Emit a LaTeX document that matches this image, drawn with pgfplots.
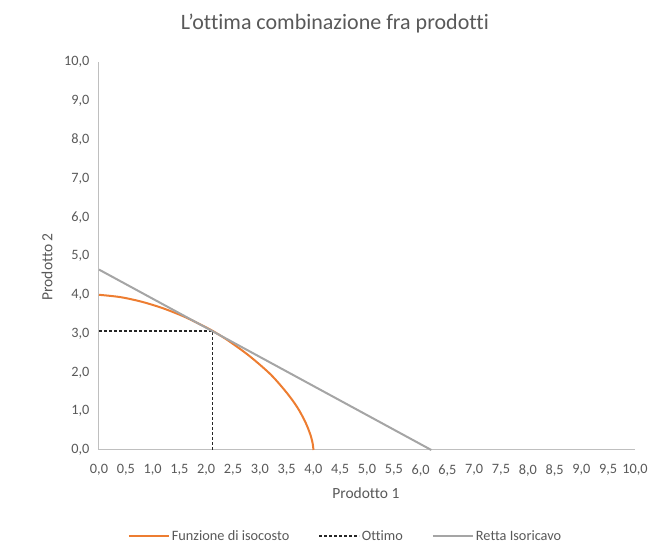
\documentclass[border=0pt]{standalone}
\usepackage{pgfplots}
\pgfplotsset{compat=1.18}
\usepackage{fontspec}
\setmainfont{Carlito}[Ligatures={NoCommon}]
\definecolor{txt}{HTML}{595959}
\definecolor{arancio}{HTML}{ED7D31}
\definecolor{grigio}{HTML}{A5A5A5}
\definecolor{assi}{HTML}{BFBFBF}

\begin{document}
\begin{tikzpicture}[x=1pt,y=1pt]
\useasboundingbox (-99,-107) rectangle (555,450);
\begin{axis}[
  anchor=south west, at={(0,0)},
  scale only axis, width=536pt, height=388pt,
  xmin=0, xmax=10, ymin=0, ymax=10,
  xtick={0,0.5,...,10}, ytick={0,1,...,10},
  axis x line=bottom, axis y line=left,
  axis line style={-, assi, line width=1pt},
  major tick length=0pt,
  xticklabel style={font=\fontsize{14.3}{15}\selectfont, text=txt, yshift=-11pt},
  yticklabel style={font=\fontsize{14.3}{15}\selectfont, text=txt, xshift=-6pt},
  /pgf/number format/.cd, fixed, fixed zerofill, precision=1, use comma,
  assume math mode=true, /pgfplots/.cd,
  title={L\symbol{39}ottima combinazione fra prodotti},
  title style={at={(axis description cs:0.44,1.0825)}, anchor=center,
    font=\fontsize{22}{23}\selectfont, text=txt},
  xlabel={Prodotto 1},
  xlabel style={at={(axis description cs:0.498,-0.111)}, anchor=center,
    font=\fontsize{15.5}{16}\selectfont, text=txt},
  ylabel={Prodotto 2},
  ylabel style={at={(axis description cs:-0.097,0.472)}, anchor=center, rotate=0,
    font=\fontsize{15.5}{16}\selectfont, text=txt},
  legend columns=3,
  legend style={at={(axis description cs:0.46,-0.222)}, anchor=center, draw=none,
    font=\fontsize{14.3}{15}\selectfont, text=txt,
    /tikz/every even column/.append style={column sep=27pt}},
  legend image code/.code={\draw[#1] (0pt,0pt) -- (40pt,0pt);},
  clip=false,
]
\addplot[arancio, line width=2pt, smooth] coordinates {
(0.00,4.00) (0.40,3.94) (0.80,3.82) (1.20,3.65) (1.60,3.43) (2.00,3.16)
(2.12,3.07) (2.40,2.83) (2.80,2.43) (3.20,1.95) (3.50,1.48) (3.70,1.10)
(3.85,0.72) (3.95,0.37) (3.99,0.14) (4.00,0.00)
};
\addlegendentry{Funzione di isocosto}
\addplot[black!85, line width=1.5pt, dash pattern=on 3pt off 2pt] coordinates {
(0,3.07) (2.12,3.07) (2.12,0)
};
\addlegendentry{Ottimo}
\addplot[grigio, line width=2pt] coordinates {
(0,4.65) (6.2,0)
};
\addlegendentry{Retta Isoricavo}
\end{axis}
\end{tikzpicture}
\end{document}
